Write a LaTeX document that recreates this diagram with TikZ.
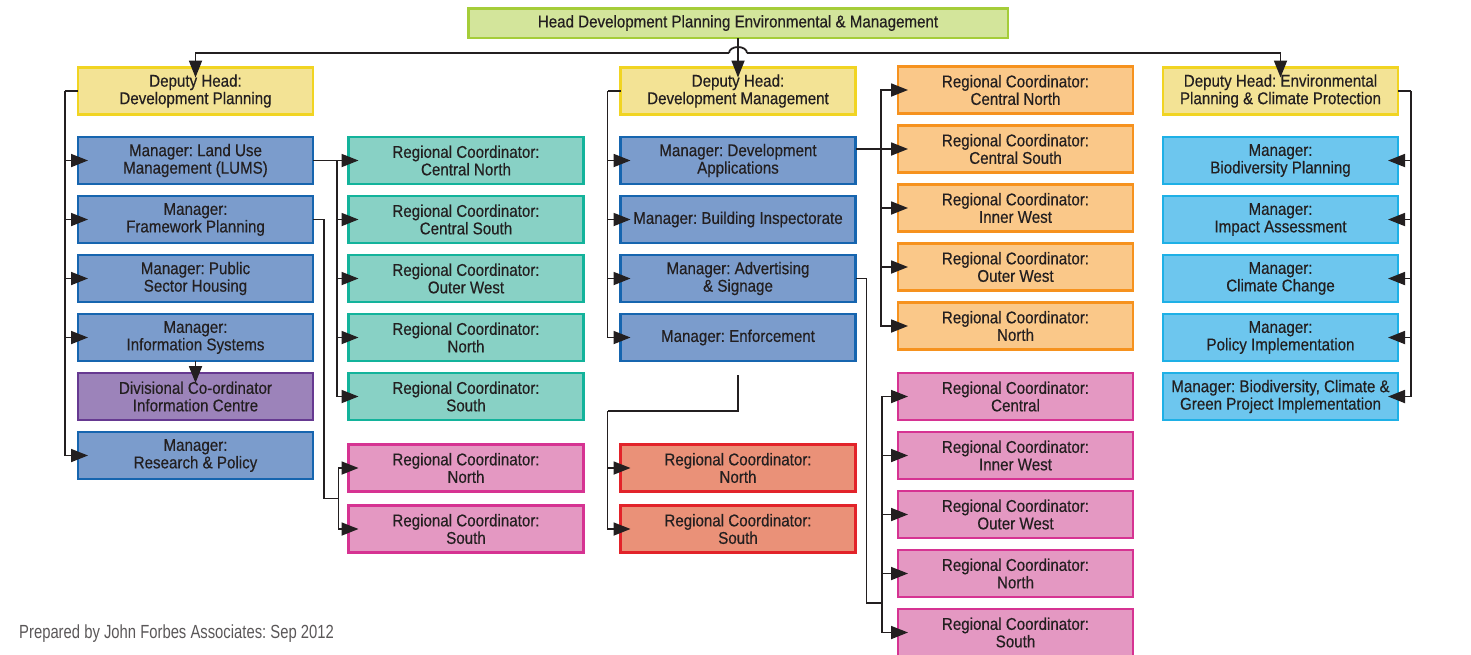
\documentclass[tikz,border=0pt]{standalone}
\usepackage{fontspec}
\setmainfont{Liberation Sans}[FakeStretch=0.89, FakeBold=0.4]
\newfontfamily\notefont{Liberation Sans}[FakeStretch=0.78]
\usetikzlibrary{positioning,calc,arrows.meta}
\frenchspacing

\definecolor{ink}{HTML}{231F20}
\definecolor{headfill}{HTML}{D3E59B}
\definecolor{headline}{HTML}{A5CD39}
\definecolor{depfill}{HTML}{F3E395}
\definecolor{depline}{HTML}{F1D422}
\definecolor{mgrfill}{HTML}{7B9CCC}
\definecolor{mgrline}{HTML}{1665AF}
\definecolor{tealfill}{HTML}{88D1C5}
\definecolor{tealline}{HTML}{13B39B}
\definecolor{pinkfill}{HTML}{E498C2}
\definecolor{pinkline}{HTML}{D63392}
\definecolor{purpfill}{HTML}{9C83BA}
\definecolor{purpline}{HTML}{663991}
\definecolor{redfill}{HTML}{EA9178}
\definecolor{redline}{HTML}{E2232A}
\definecolor{orfill}{HTML}{FAC889}
\definecolor{orline}{HTML}{F6921E}
\definecolor{skyfill}{HTML}{6DC6EE}
\definecolor{skyline}{HTML}{1EB0E6}

\tikzset{
    box/.style={draw, line width=2.5pt, minimum width=235pt, minimum height=47pt,
        inner sep=0pt, outer sep=0pt, align=center, text=ink, font=\fontsize{17}{17.5}\selectfont},
    deputy/.style={box, fill=depfill, draw=depline},
    mgr/.style={box, fill=mgrfill, draw=mgrline},
    teal/.style={box, fill=tealfill, draw=tealline},
    pink/.style={box, fill=pinkfill, draw=pinkline},
    purp/.style={box, fill=purpfill, draw=purpline},
    redbox/.style={box, fill=redfill, draw=redline},
    orbox/.style={box, fill=orfill, draw=orline},
    sky/.style={box, fill=skyfill, draw=skyline},
    link/.style={draw=ink, line width=1.8pt, -{Triangle[length=17pt,width=13pt]}, shorten >=-10pt},
    wire/.style={draw=ink, line width=1.8pt}
}

\begin{document}
\begin{tikzpicture}[x=1pt, y=1pt, node distance=12pt]
    \useasboundingbox (0,0) rectangle (1471,-654);

    % top of the chart
    \node[box, fill=headfill, draw=headline, minimum width=539.5pt, minimum height=29.5pt] (head) at (738,-23)
        {Head Development Planning Environmental \& Management};
    \node[deputy] (dpd) at (195.5,-91) {Deputy Head:\\Development Planning};
    \node[deputy] (dmd) at (738,-91) {Deputy Head:\\Development Management};
    \node[deputy] (ded) at (1280.5,-91) {Deputy Head: Environmental\\Planning \& Climate Protection};

    % development planning
    \node[mgr] (lum) at (195.5,-160.5) {Manager: Land Use\\Management (LUMS)};
    \node[mgr, below=of lum] (fwp) {Manager:\\Framework Planning};
    \node[mgr, below=of fwp] (psh) {Manager: Public\\Sector Housing};
    \node[mgr, below=of psh] (ins) {Manager:\\Information Systems};
    \node[purp, below=of ins] (dci) {Divisional Co-ordinator\\Information Centre};
    \node[mgr, below=of dci] (rpo) {Manager:\\Research \& Policy};

    \node[teal] (tcn) at (466,-160.5) {Regional Coordinator:\\Central North};
    \node[teal, below=of tcn] (tcs) {Regional Coordinator:\\Central South};
    \node[teal, below=of tcs] (tow) {Regional Coordinator:\\Outer West};
    \node[teal, below=of tow] (tno) {Regional Coordinator:\\North};
    \node[teal, below=of tno] (tso) {Regional Coordinator:\\South};
    \node[pink] (pno) at (466,-468) {Regional Coordinator:\\North};
    \node[pink, below=14pt of pno] (pso) {Regional Coordinator:\\South};

    % development management
    \node[mgr] (dap) at (738,-160.5) {Manager: Development\\Applications};
    \node[mgr, below=of dap] (bin) {Manager: Building Inspectorate};
    \node[mgr, below=of bin] (adv) {Manager: Advertising\\\& Signage};
    \node[mgr, below=of adv] (enf) {Manager: Enforcement};
    \node[redbox] (rno) at (738,-468) {Regional Coordinator:\\North};
    \node[redbox, below=14pt of rno] (rso) {Regional Coordinator:\\South};

    \node[orbox] (ocn) at (1015.5,-90) {Regional Coordinator:\\Central North};
    \node[orbox, below=of ocn] (ocs) {Regional Coordinator:\\Central South};
    \node[orbox, below=of ocs] (oiw) {Regional Coordinator:\\Inner West};
    \node[orbox, below=of oiw] (oow) {Regional Coordinator:\\Outer West};
    \node[orbox, below=of oow] (ono) {Regional Coordinator:\\North};
    \node[pink] (qce) at (1015.5,-396.5) {Regional Coordinator:\\Central};
    \node[pink, below=of qce] (qiw) {Regional Coordinator:\\Inner West};
    \node[pink, below=of qiw] (qow) {Regional Coordinator:\\Outer West};
    \node[pink, below=of qow] (qno) {Regional Coordinator:\\North};
    \node[pink, below=of qno] (qso) {Regional Coordinator:\\South};

    % environmental planning
    \node[sky] (bpl) at (1280.5,-160.5) {Manager:\\Biodiversity Planning};
    \node[sky, below=of bpl] (bia) {Manager:\\Impact Assessment};
    \node[sky, below=of bia] (bcc) {Manager:\\Climate Change};
    \node[sky, below=of bcc] (bpi) {Manager:\\Policy Implementation};
    \node[sky, below=of bpi] (bcg) {Manager: Biodiversity, Climate \&\\Green Project Implementation};

    \node[anchor=base west, inner sep=0pt, text=ink!75, font=\notefont\fontsize{19}{20}\selectfont] (note) at (19,-638)
        {Prepared by John Forbes Associates: Sep 2012};

    % head to deputies, with a hop over the middle line
    \coordinate (bus) at (738,-53);
    \draw[link] (head.south) -- (dmd.north);
    \draw[link] ($(bus)+(-9,0)$) -| (dpd.north);
    \draw[link] ($(bus)+(9,0)$) -| (ded.north);
    \draw[wire] ($(bus)+(-9,0)$) arc[start angle=180, end angle=0, x radius=9pt, y radius=6pt];

    % deputy trunks
    \draw[wire] (dpd.west) -- ++(-13,0) coordinate (dpt);
    \foreach \m in {lum,fwp,psh,ins,rpo}
        \draw[link] (dpt) |- (\m.west);
    \draw[link] (ins.south) -- (dci.north);

    \draw[wire] (dmd.west) -- ++(-13,0) coordinate (dmt);
    \foreach \m in {dap,bin,adv,enf}
        \draw[link] (dmt) |- (\m.west);

    \draw[wire] (ded.east) -- ++(13,0) coordinate (det);
    \foreach \m in {bpl,bia,bcc,bpi,bcg}
        \draw[link] (det) |- (\m.east);

    % regional coordinators
    \draw[wire] (lum.east) -- ++(24,0) coordinate (ltt);
    \foreach \t in {tcn,tcs,tow,tno,tso}
        \draw[link] (ltt) |- (\t.west);

    \coordinate (pfork) at ($(pno.west)!0.5!(pso.west)+(-10,0)$);
    \draw[wire] (fwp.east) -- ++(11,0) |- (pfork);
    \draw[link] (pfork) |- (pno.west);
    \draw[link] (pfork) |- (pso.west);

    \coordinate (ott) at ($(ocs.west)+(-17,0)$);
    \draw[link] (dap.east |- ocs.west) -- (ocs.west);
    \foreach \o in {ocn,oiw,oow,ono}
        \draw[link] (ott) |- (\o.west);

    \coordinate (qfork) at ($(qno.west)!0.5!(qso.west)+(-16,0)$);
    \draw[wire] (adv.east) -- ++(11,0) |- (qfork);
    \foreach \q in {qce,qiw,qow,qno,qso}
        \draw[link] (qfork) |- (\q.west);

    \coordinate (etop) at ($(enf.south)+(0,-14)$);
    \path (etop) ++(0,-36) coordinate (ebend);
    \coordinate (rtt) at (dmt |- ebend);
    \draw[wire] (etop) |- (rtt);
    \draw[link] (rtt) |- (rno.west);
    \draw[link] (rtt) |- (rso.west);
\end{tikzpicture}
\end{document}
